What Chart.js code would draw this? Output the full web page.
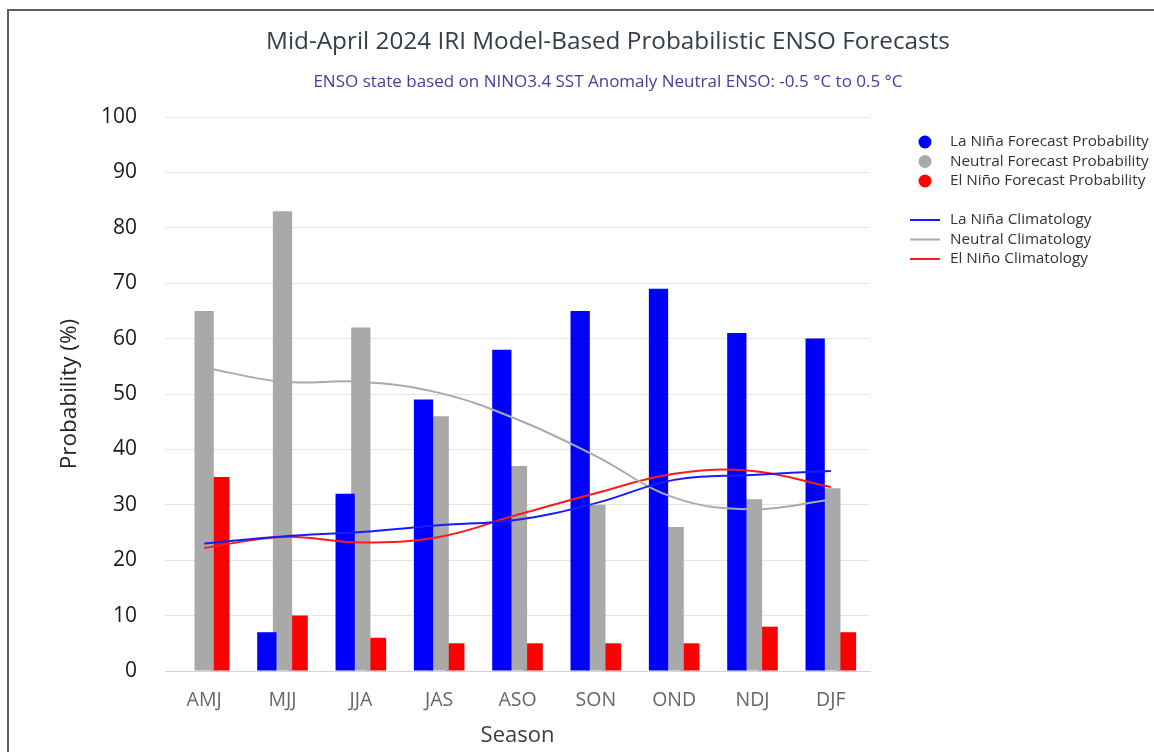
<!DOCTYPE html>
<html>
<head>
<meta charset="utf-8">
<title>IRI ENSO Forecast</title>
<script src="https://cdn.jsdelivr.net/npm/chart.js@4.4.1/dist/chart.umd.min.js"></script>
<style>
  html, body { margin: 0; padding: 0; background: #fff; overflow: hidden; }
  #wrap { position: relative; width: 1154px; height: 752px; }
  #frame { position: absolute; left: 7px; top: 9px; width: 1300px; height: 900px;
           border-top: 2px solid #5c5c5c; border-left: 2px solid #5c5c5c; }
  canvas { position: absolute; left: 0; top: 0; }
</style>
</head>
<body>
<div id="wrap">
  <div id="frame"></div>
  <canvas id="ensoChart" width="1154" height="752"></canvas>
</div>
<script>
// season labels and values
const seasons = ['AMJ', 'MJJ', 'JJA', 'JAS', 'ASO', 'SON', 'OND', 'NDJ', 'DJF'];
const laNinaProb = [null, 7, 32, 49, 58, 65, 69, 61, 60];
const neutralProb = [65, 83, 62, 46, 37, 30, 26, 31, 33];
const elNinoProb = [35, 10, 6, 5, 5, 5, 5, 8, 7];

const laNinaClim = [23, 24.3, 25.1, 26.3, 27.3, 30.3, 34.5, 35.4, 36.1];
const neutralClim = [54.8, 52.2, 52.2, 50.2, 45.4, 38.8, 31.3, 29.2, 30.9];
const elNinoClim = [22.2, 24.2, 23.2, 24.2, 28.2, 32.1, 35.6, 36.1, 33.2];

const yTicks = [0, 10, 20, 30, 40, 50, 60, 70, 80, 90, 100];

const TITLE = 'Mid-April 2024 IRI Model-Based Probabilistic ENSO Forecasts';
const SUBTITLE = 'ENSO state based on NINO3.4 SST Anomaly Neutral ENSO: -0.5 °C to 0.5 °C';

const FONT = '"Open Sans", "Noto Sans", sans-serif';

// title, subtitle and the two-part legend on the right
const headerPlugin = {
    id: 'header',
    afterDraw(chart) {
        const ctx = chart.ctx;
        ctx.save();
        ctx.textAlign = 'center';
        ctx.textBaseline = 'middle';
        ctx.fillStyle = '#333e48';
        ctx.font = `24.3px ${FONT}`;
        ctx.fillText(TITLE, 608, 42);
        ctx.fillStyle = '#4a3b9c';
        ctx.font = `17px ${FONT}`;
        ctx.fillText(SUBTITLE, 608, 82);

        ctx.textAlign = 'left';
        ctx.font = `15.3px ${FONT}`;
        const rowsBar = [142, 161.5, 181];
        const rowsLine = [220, 239.5, 259];
        let bi = 0, li = 0;
        chart.data.datasets.forEach(ds => {
            if (ds.type === 'bar') {
                const y = rowsBar[bi++];
                ctx.fillStyle = ds.backgroundColor;
                ctx.beginPath();
                ctx.arc(925, y, 6.5, 0, Math.PI * 2);
                ctx.fill();
                ctx.fillStyle = '#333333';
                ctx.fillText(ds.label, 950, y);
            } else {
                const y = rowsLine[li++];
                ctx.strokeStyle = ds.borderColor;
                ctx.lineWidth = 2;
                ctx.beginPath();
                ctx.moveTo(910, y);
                ctx.lineTo(940, y);
                ctx.stroke();
                ctx.fillStyle = '#333333';
                ctx.fillText(ds.label, 950, y);
            }
        });
        ctx.restore();
    }
};

function barSet(label, data, color) {
    return {
        type: 'bar',
        label: label,
        data: data,
        backgroundColor: color,
        categoryPercentage: 0.6,
        barPercentage: 1.23,
        order: 2
    };
}

function lineSet(label, data, color) {
    return {
        type: 'line',
        label: label,
        data: data,
        borderColor: color,
        backgroundColor: color,
        borderWidth: 2,
        pointRadius: 0,
        tension: 0.4,
        fill: false,
        order: 1
    };
}

const ctx = document.getElementById('ensoChart').getContext('2d');
new Chart(ctx, {
    data: {
        labels: seasons,
        datasets: [
            barSet('La Niña Forecast Probability', laNinaProb, '#0000ff'),
            barSet('Neutral Forecast Probability', neutralProb, '#a9a9a9'),
            barSet('El Niño Forecast Probability', elNinoProb, '#ff0000'),
            lineSet('La Niña Climatology', laNinaClim, '#1a1aff'),
            lineSet('Neutral Climatology', neutralClim, '#aaaaaa'),
            lineSet('El Niño Climatology', elNinoClim, '#ff1a1a')
        ]
    },
    options: {
        responsive: false,
        animation: false,
        layout: { padding: { top: 117, right: 284, left: 0, bottom: 0 } },
        plugins: {
            legend: { display: false },
            title: { display: false },
            tooltip: { enabled: false }
        },
        scales: {
            x: {
                offset: true,
                grid: { display: false },
                border: { color: '#ccd6eb' },
                ticks: { color: '#666666', font: { family: FONT, size: 19.5 }, padding: 10 },
                title: {
                    display: true, text: 'Season', color: '#333e48',
                    font: { family: FONT, size: 22 }, padding: { top: 0, bottom: 3 }
                },
                afterFit: s => { s.height = 81; }
            },
            y: {
                min: 0,
                max: 100,
                afterBuildTicks: s => { s.ticks = yTicks.map(v => ({ value: v })); },
                grid: { color: '#e6e6e6', drawTicks: false },
                border: { display: false },
                ticks: { color: '#1a1a1a', font: { family: FONT, size: 21 }, padding: 28 },
                title: {
                    display: true, text: 'Probability (%)', color: '#222222',
                    font: { family: FONT, size: 22.5 }, padding: { top: 56, bottom: 0 }
                },
                afterFit: s => { s.width = 165; }
            }
        }
    },
    plugins: [headerPlugin]
});
</script>
</body>
</html>
